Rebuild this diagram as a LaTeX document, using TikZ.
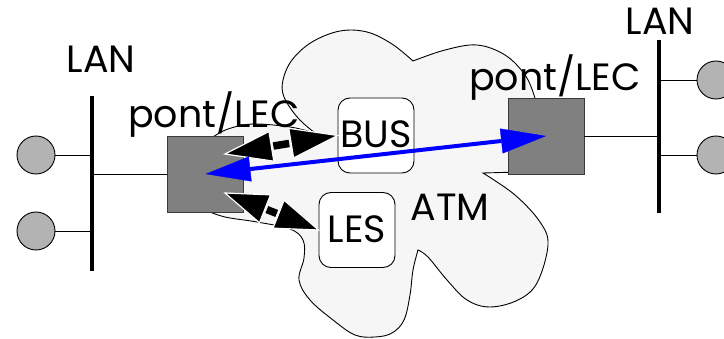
\documentclass[tikz,border=0pt]{standalone}
\usepackage{fontspec}
\setmainfont{Poppins}
\usetikzlibrary{arrows.meta,calc}
\definecolor{cloudfill}{HTML}{F6F6F6}
\definecolor{boxgray}{HTML}{808080}
\definecolor{boxline}{HTML}{3A3A3A}
\definecolor{hostgray}{HTML}{B3B3B3}
\begin{document}
\begin{tikzpicture}[x=1pt,y=-1pt,
  lbl/.style={font=\fontsize{38}{42}\selectfont, inner sep=0pt, anchor=base},
  lecbox/.style={draw=boxline, fill=boxgray, line width=0.9pt, minimum width=76pt, minimum height=76pt, inner sep=0pt},
  srvbox/.style={draw=black, fill=white, line width=0.9pt, rounded corners=12pt, minimum width=76pt, minimum height=75pt, inner sep=0pt, font=\fontsize{38}{42}\selectfont},
  host/.style={circle, draw=black, fill=hostgray, line width=0.9pt, minimum size=38pt, inner sep=0pt},
  lanbar/.style={line width=4.5pt},
  wire/.style={line width=0.9pt},
  shaft/.style={line width=7.5pt},
  headtri/.style={fill=black, draw=white, line width=1.2pt, line join=miter},
  blu/.style={draw=blue, line width=4pt, {Triangle[length=45pt,width=25pt,line width=0.4pt]}-{Triangle[length=45pt,width=25pt,line width=0.4pt]}}
]
\useasboundingbox (0,0) rectangle (724,339);

% ATM cloud
\path[draw=black, fill=cloudfill, line width=0.9pt]
  plot[smooth, tension=0.6] coordinates {(213,137) (228,129) (253,124) (290,127) (315,133)}
  -- plot[smooth, tension=0.6] coordinates {(315,133) (298,118) (284,97) (283,80) (292,60) (312,42) (340,31) (367,32) (392,44) (413,61)}
  -- plot[smooth, tension=0.6] coordinates {(413,61) (445,50) (477,45) (505,55) (525,75) (535,98) (540,120)}
  -- (520,172) -- (483,173)
  -- plot[smooth, tension=0.6] coordinates {(483,173) (515,195) (540,222) (548,245) (537,283) (518,300) (490,307) (467,300) (447,280) (428,257) (418,250)}
  -- plot[smooth, tension=0.6] coordinates {(418,250) (413,270) (410,295) (404,320) (392,333) (375,337) (355,335) (333,320) (310,300) (299,280) (304,258) (303,240) (290,229) (257,222) (225,217) (205,210)}
  -- cycle;

% LAN bars
\coordinate (lanLtop) at (92,96);
\coordinate (lanLbot) at (92,271);
\coordinate (lanRtop) at (659,40);
\coordinate (lanRbot) at (659,213);
\draw[lanbar] (lanLtop) -- (lanLbot);
\draw[lanbar] (lanRtop) -- (lanRbot);

% hosts
\node[host] (h1) at (36,155) {};
\node[host] (h2) at (36,231) {};
\node[host] (h3) at (716,80) {};
\node[host] (h4) at (716,155) {};
\draw[wire] (h1.east) -- (h1.east -| lanLtop);
\draw[wire] (h2.east) -- (h2.east -| lanLtop);
\draw[wire] (h3.west) -- (h3.west -| lanRtop);
\draw[wire] (h4.west) -- (h4.west -| lanRtop);

% bridges / LEC
\node[lecbox] (boxL) at (205.5,174) {};
\node[lecbox] (boxR) at (546,136) {};
\draw[wire] (boxL.west) -- (boxL.west -| lanLtop);
\draw[wire] (boxR.east) -- (boxR.east -| lanRtop);

% servers
\node[srvbox] (bus) at (376,135.5) {\raisebox{3pt}{BUS}};
\node[srvbox] (les) at (357,230) {\raisebox{1pt}{LES}};

% black double arrows (LEC <-> BUS, LEC <-> LES)
\coordinate (bA) at (225,154);
\coordinate (bB) at (225,193);
\foreach \src/\dst/\hl in {bA/bus.west/47, bB/les.west/43}{
  \coordinate (p) at ($(\src)!\hl pt!(\dst)$);
  \coordinate (q) at ($(\dst)!\hl pt!(\src)$);
  \draw[shaft] ($(\src)!\hl pt+2pt!(\dst)$) -- ($(\dst)!\hl pt+2pt!(\src)$);
  \path[headtri] (\src) -- ($(p)!15pt!90:(\dst)$) -- ($(p)!15pt!-90:(\dst)$) -- cycle;
  \path[headtri] (\dst) -- ($(q)!15pt!90:(\src)$) -- ($(q)!15pt!-90:(\src)$) -- cycle;
}
\draw[blu] (boxL.center) -- (boxR.center);

% labels
\node[lbl] (tLanL) at (101,73) {LAN};
\node[lbl] (tLanR) at (660,35) {LAN};
\node[lbl] (tPontL) at (214,128) {pont/LEC};
\node[lbl] (tPontR) at (555,91) {pont/LEC};
\node[lbl] (tAtm) at (450,221) {ATM};
\end{tikzpicture}
\end{document}
